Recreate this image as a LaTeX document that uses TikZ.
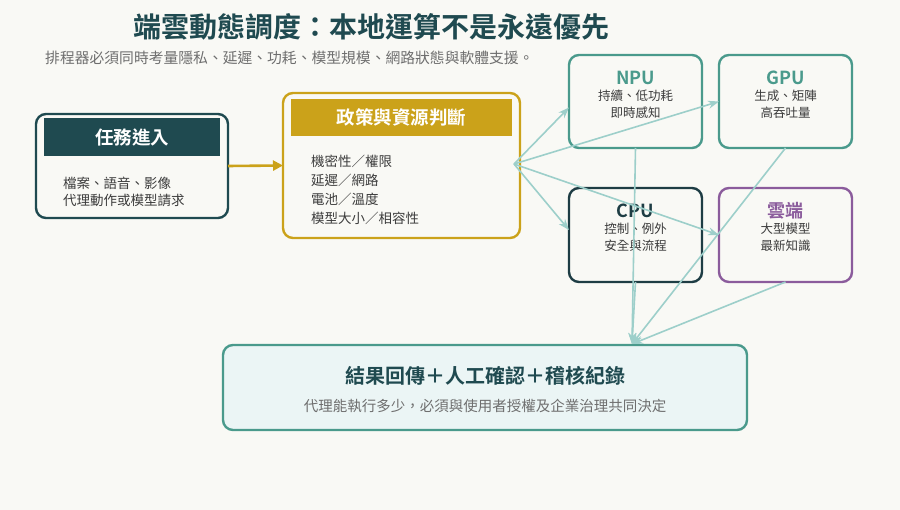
\documentclass[tikz,border=0pt]{standalone}
\usepackage{fontspec}
\setmainfont{Noto Sans CJK TC}[BoldFont={Noto Sans CJK TC Bold}]
\usepackage{xcolor}
\usetikzlibrary{arrows.meta, positioning, calc}

\definecolor{paperBg}{HTML}{F9F9F5}
\definecolor{deepTeal}{HTML}{1F4A50}
\definecolor{policyGold}{HTML}{CBA21A}
\definecolor{npuTeal}{HTML}{4A9A8C}
\definecolor{cpuDark}{HTML}{1E3D44}
\definecolor{cloudPurple}{HTML}{8B5C9C}
\definecolor{flowTeal}{HTML}{9DCFCA}
\definecolor{resultFill}{HTML}{EBF5F5}
\definecolor{bodyGray}{HTML}{3C3C3C}
\definecolor{subGray}{HTML}{6E6E6E}

\newcommand{\fsz}[1]{\fontsize{#1}{#1}\selectfont}

\begin{document}
\begin{tikzpicture}[
    x=1pt, y=-1pt,
    card/.style={draw, rounded corners=10pt, line width=2.4pt, inner sep=0pt, outer sep=0pt},
    band/.style={inner sep=0pt, outer sep=0pt, text=white, font=\fsz{18.5}\bfseries},
    bodytext/.style={align=left, text=bodyGray, font=\fsz{13.5}, inner sep=0pt},
    unitname/.style={font=\fsz{18}\bfseries, inner sep=0pt},
    unitnote/.style={align=center, text=bodyGray, font=\fsz{12.5}, inner sep=0pt},
    flow/.style={draw=flowTeal, line width=1.6pt, -{Stealth[length=11pt,width=8pt]}}
  ]
    \fill[paperBg] (0,0) rectangle (900,510);
    \useasboundingbox (0,0) rectangle (900,510);

    % title lines
    \node[text=deepTeal, font=\fsz{28}\bfseries] (title) at (371,27) {端雲動態調度：本地運算不是永遠優先};
    \node[anchor=west, text=subGray, font=\fsz{14.8}, inner sep=0pt] (subtitle) at (45,58)
      {排程器必須同時考量隱私、延遲、功耗、模型規模、網路狀態與軟體支援。};

    % task in
    \node[card, draw=deepTeal, minimum width=192pt, minimum height=104pt] (task) at (132,166) {};
    \node[band, fill=deepTeal, minimum width=176pt, minimum height=38pt] (taskhead) at (132,137) {任務進入};
    \node[bodytext, anchor=west] (taskbody) at (63,191.5) {檔案、語音、影像\\[3.5pt]代理動作或模型請求};

    % policy and resources
    \node[card, draw=policyGold, minimum width=237pt, minimum height=145pt] (policy) at (401.5,165.5) {};
    \node[band, fill=policyGold, minimum width=221pt, minimum height=37pt] (policyhead) at (401.5,117.5) {政策與資源判斷};
    \node[bodytext, anchor=west] (policybody) at (311,189.5)
      {機密性／權限\\[5.5pt]延遲／網路\\[5.5pt]電池／溫度\\[5.5pt]模型大小／相容性};

    % compute targets
    \node[card, draw=npuTeal, minimum width=133pt, minimum height=93pt] (npu) at (635.5,101.5) {};
    \node[unitname, text=npuTeal] (npuname) at (635.5,78) {NPU};
    \node[unitnote] (npunote) at (635.5,104.5) {持續、低功耗\\[4.5pt]即時感知};

    \node[card, draw=npuTeal, minimum width=133pt, minimum height=93pt] (gpu) at (785.5,101.5) {};
    \node[unitname, text=npuTeal] (gpuname) at (785.5,78) {GPU};
    \node[unitnote] (gpunote) at (785.5,104.5) {生成、矩陣\\[4.5pt]高吞吐量};

    \node[card, draw=cpuDark, minimum width=133pt, minimum height=94pt] (cpu) at (635.5,235) {};
    \node[unitname, text=cpuDark] (cpuname) at (635.5,211) {CPU};
    \node[unitnote] (cpunote) at (635.5,237.5) {控制、例外\\[4.5pt]安全與流程};

    \node[card, draw=cloudPurple, minimum width=133pt, minimum height=94pt] (cloud) at (785.5,235) {};
    \node[unitname, text=cloudPurple] (cloudname) at (785.5,211) {雲端};
    \node[unitnote] (cloudnote) at (785.5,237.5) {大型模型\\[4.5pt]最新知識};

    % result
    \node[card, draw=npuTeal, fill=resultFill, minimum width=524pt, minimum height=85pt] (result) at (485,387.5) {};
    \node[text=deepTeal, font=\fsz{20}\bfseries, inner sep=0pt] (resulttitle) at (485,376) {結果回傳＋人工確認＋稽核紀錄};
    \node[text=subGray, font=\fsz{14.5}, inner sep=0pt] (resultnote) at (485,406) {代理能執行多少，必須與使用者授權及企業治理共同決定};

    \coordinate (hub) at (514,164);
    \coordinate (merge) at (632,344);

    \draw[draw=policyGold, line width=2.6pt, -{Triangle[length=10pt,width=10pt]}] (task.east) -- (policy.west);

    \draw[flow] (hub) -- ([yshift=-6pt]npu.west);
    \draw[flow] (hub) -- (gpu.west);
    \draw[flow] (hub) -- ([yshift=5pt]cpu.west);
    \draw[flow] (hub) -- (cloud.west);

    \draw[flow] (npu.south) -- (merge);
    \draw[flow] (cpu.south) -- (merge);
    \draw[flow] (gpu.south) -- (merge);
    \draw[flow] (cloud.south) -- (merge);
  \end{tikzpicture}
\end{document}
